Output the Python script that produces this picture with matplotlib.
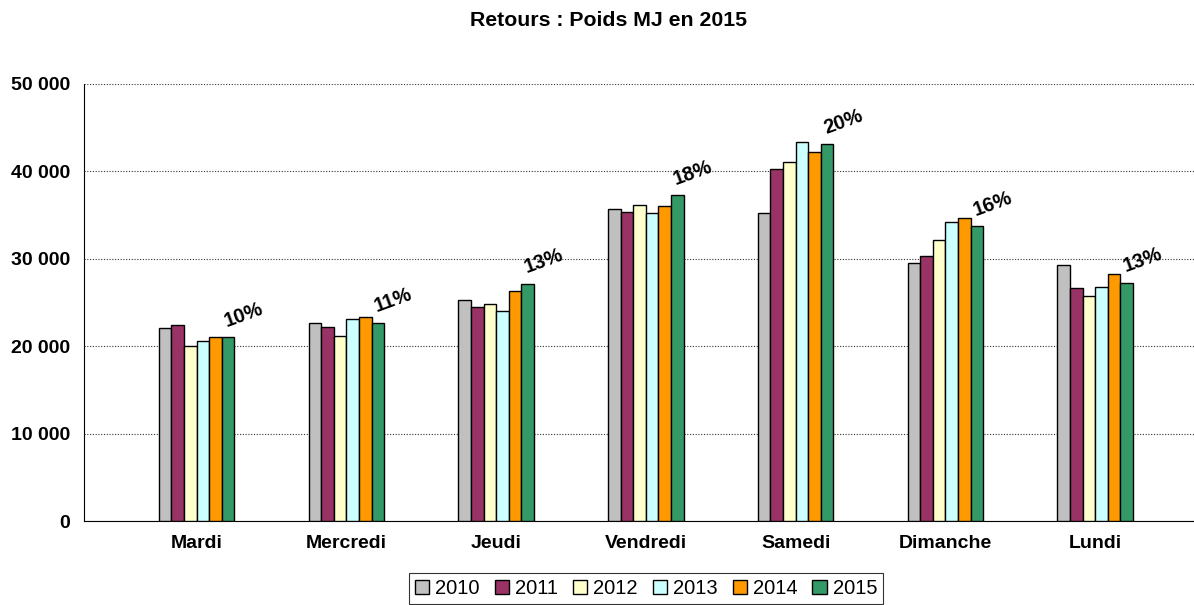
import numpy as np
import matplotlib
matplotlib.use('Agg')
import matplotlib.pyplot as plt
from matplotlib.ticker import FuncFormatter

plt.rcParams['font.family'] = ['Liberation Sans', 'DejaVu Sans']

# Données
jours = ['Mardi', 'Mercredi', 'Jeudi', 'Vendredi', 'Samedi', 'Dimanche', 'Lundi']
annees = ['2010', '2011', '2012', '2013', '2014', '2015']
v2010 = [22100, 22690, 25290, 35700, 35200, 29560, 29290]
v2011 = [22430, 22230, 24520, 35390, 40310, 30360, 26660]
v2012 = [20060, 21170, 24830, 36200, 41110, 32190, 25740]
v2013 = [20560, 23150, 24060, 35280, 43360, 34170, 26810]
v2014 = [21020, 23300, 26350, 36000, 42180, 34670, 28230]
v2015 = [21020, 22690, 27120, 37260, 43100, 33720, 27270]
poids = ['10%', '11%', '13%', '18%', '20%', '16%', '13%']

series = [v2010, v2011, v2012, v2013, v2014, v2015]
couleurs = ['#C0C0C0', '#993366', '#FFFFCC', '#CCFFFF', '#FF9900', '#339966']

fig = plt.figure(figsize=(11.94, 6.05), dpi=100)
ax = fig.add_axes([84 / 1194, 84 / 605, 1110 / 1194, 437 / 605])

x = np.arange(len(jours))
w = 0.084
for i, (vals, c, lab) in enumerate(zip(series, couleurs, annees)):
    ax.bar(x + (i - 2.5) * w, vals, width=w, color=c, edgecolor='black',
           linewidth=1.0, label=lab, zorder=3)

# Pourcentages au-dessus de la barre 2015
for xi, v, p in zip(x, v2015, poids):
    ax.text(xi + 2.0 * w, v + 800, p, rotation=20, fontsize=14.5,
            fontweight='bold', ha='left', va='bottom', zorder=4)

ax.set_xlim(-0.752, 6.66)
ax.set_ylim(0, 50000)
ax.set_yticks(np.arange(0, 50001, 10000))
ax.yaxis.set_major_formatter(FuncFormatter(lambda v, _: f'{int(v):,}'.replace(',', ' ')))
ax.set_xticks(x)
ax.set_xticklabels(jours)
ax.tick_params(axis='both', labelsize=14, length=0)
ax.tick_params(axis='x', pad=10)
ax.tick_params(axis='y', pad=10)
for t in ax.get_xticklabels() + ax.get_yticklabels():
    t.set_fontweight('bold')

ax.grid(axis='y', linestyle=(0, (1, 1.5)), color='#333333', linewidth=0.8, zorder=0)
ax.spines['top'].set_visible(False)
ax.spines['right'].set_visible(False)
ax.spines['left'].set_color('black')
ax.spines['bottom'].set_color('black')

fig.text(609 / 1194, 1 - 21 / 605, 'Retours : Poids MJ en 2015', ha='center',
         va='center', fontsize=15.3, fontweight='bold')

leg = ax.legend(ncol=6, loc='upper center', bbox_to_anchor=(646 / 1194, 1 - 573 / 605),
                bbox_transform=fig.transFigure, frameon=True, fancybox=False,
                edgecolor='black', fontsize=14.5, handlelength=0.7, handleheight=0.7,
                handletextpad=0.3, columnspacing=0.75, borderpad=0.3, borderaxespad=0)
leg.get_frame().set_linewidth(0.8)

plt.savefig('out.png', dpi=100)
